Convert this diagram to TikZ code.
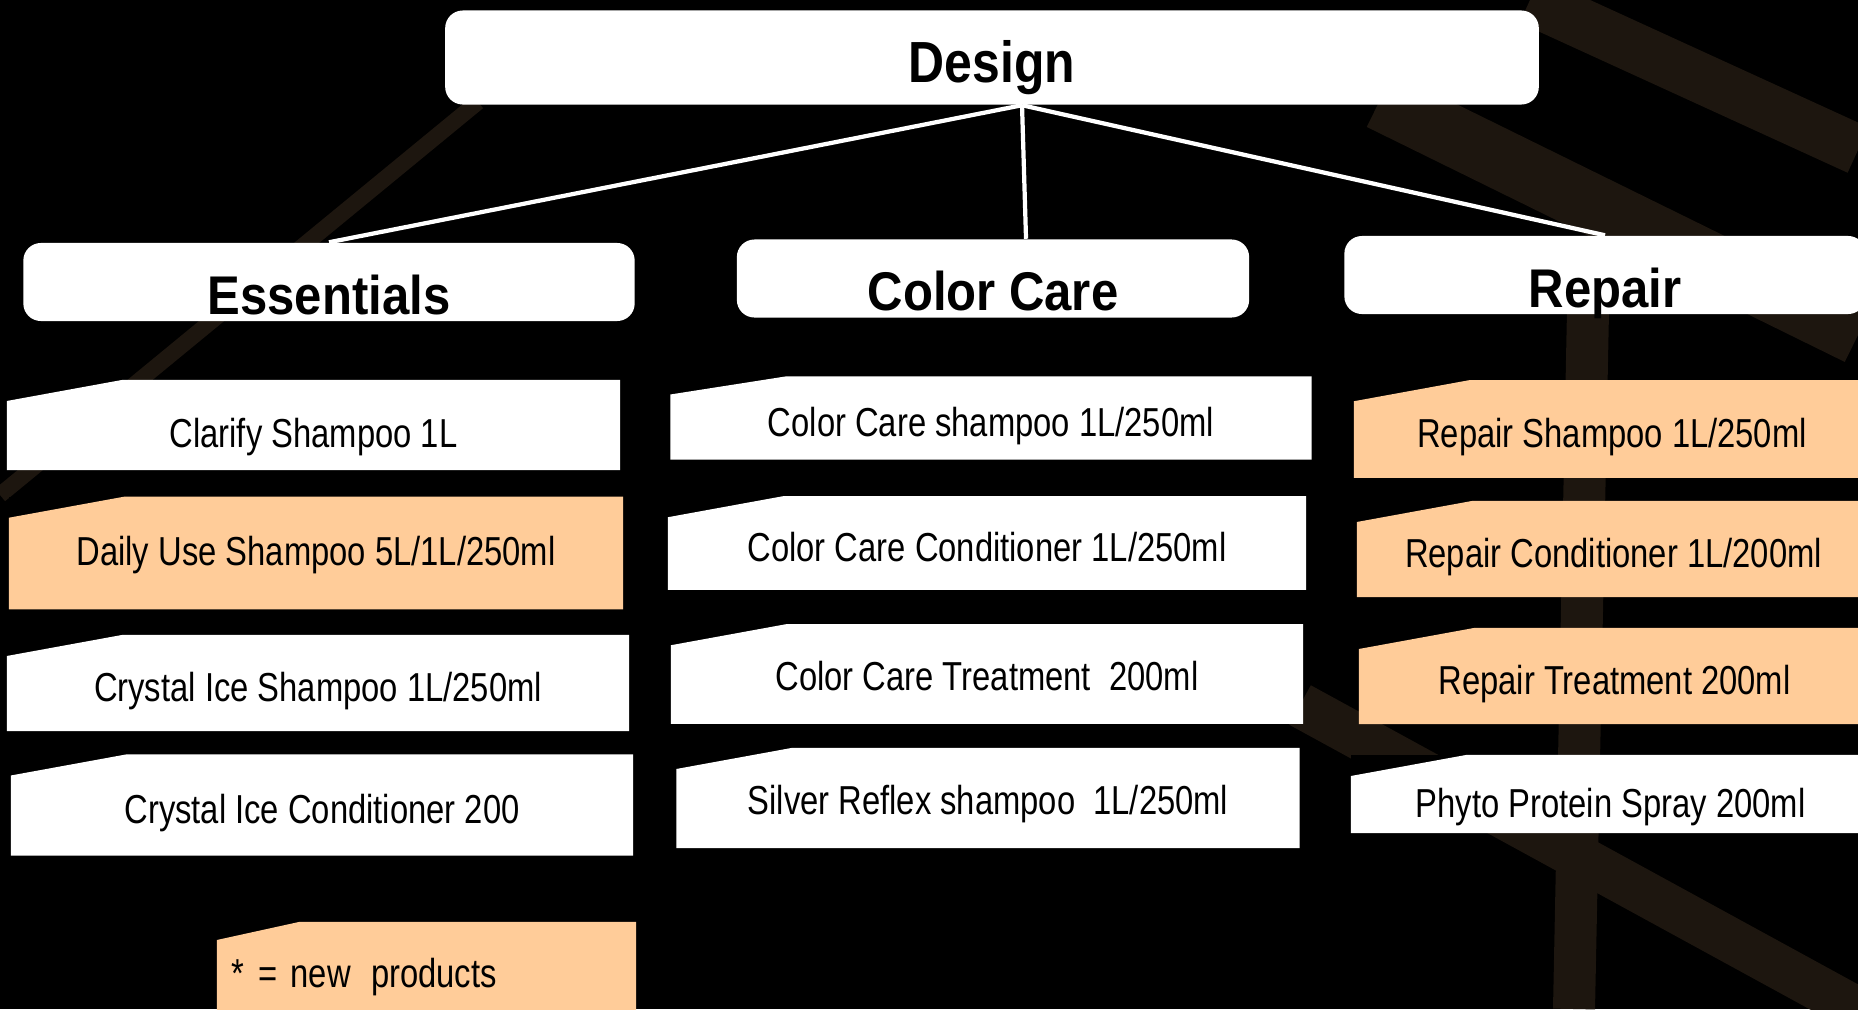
\documentclass[tikz,border=0pt]{standalone}
\usepackage{fontspec}
\setmainfont{Liberation Sans}
\newfontfamily\itemfont[FakeStretch=0.81]{Liberation Sans}
\newfontfamily\headfont[FakeStretch=0.9]{Liberation Sans}
\newfontfamily\designfont[FakeStretch=0.86]{Liberation Sans}
\definecolor{boxorange}{RGB}{255,204,153}
\definecolor{logobrown}{RGB}{29,22,15}

\tikzset{
  cutdx/.store in=\cutdx, cutdx=1.15cm,
  cutdy/.store in=\cutdy, cutdy=0.21cm,
  header/.style={fill=white, rounded corners=5pt, inner sep=0pt,
    font=\headfont\bfseries\fontsize{15.5}{17}\selectfont,
    minimum height=0.78cm, text height=0.71cm, text depth=0.07cm},
  item/.style={fill=black, inner sep=0pt, text height=0.42cm, text depth=0.05cm,
    font=\itemfont\fontsize{11.5}{13}\selectfont,
    path picture={\fill[#1] ([yshift=-\cutdy]path picture bounding box.north west)
      -- ([xshift=\cutdx]path picture bounding box.north west)
      -- (path picture bounding box.north east) -- (path picture bounding box.south east)
      -- (path picture bounding box.south west) -- cycle;}},
  item/.default=white,
  link/.style={white, line width=1.2pt}
}

\begin{document}
\begin{tikzpicture}[x=0.01cm, y=-0.01cm]
\useasboundingbox (0,0) rectangle (1858,1009);
\clip (0,0) rectangle (1858,1009);
\fill [black] (0,0) rectangle (1858,1009);

% faint logo in the background
\draw [logobrown, line width=0.16cm] (478,102) -- (0,495);
\draw [logobrown, line width=0.5cm] (1530,0) -- (1858,150);
\draw [logobrown, line width=0.6cm] (1380,100) -- (1858,335);
\draw [logobrown, line width=0.42cm] (1588,310) -- (1574,1009);
\draw [logobrown, line width=0.45cm] (1300,705) -- (1858,1010);

% top and the three lines
\node [header, font=\designfont\bfseries\fontsize{16.5}{18}\selectfont, minimum width=10.93cm,
  minimum height=0.94cm, text height=0.715cm, text depth=0.225cm] (design) at (992,57.5) {Design};
\node [header, minimum width=6.11cm] (essentials) at (329,282) {Essentials};
\node [header, minimum width=5.12cm] (colorcare) at (993,278.5) {Color Care};
\node [header, minimum width=5.21cm] (repair) at (1605,275) {Repair};

\coordinate (hub) at ([xshift=0.3cm]design.south);
\draw [link] (hub) -- (essentials.north);
\draw [link] (hub) -- ([xshift=0.33cm]colorcare.north);
\draw [link] (hub) -- (repair.north);

% Essentials
\node [item, minimum width=6.13cm, minimum height=0.9cm, text height=0.49cm] (clarify) at (313.5,425) {Clarify Shampoo 1L};
\node [item=boxorange, minimum width=6.14cm, minimum height=1.125cm, text depth=0.17cm] (dailyuse) at (316,553) {Daily Use Shampoo 5L/1L/250ml};
\node [item, minimum width=6.22cm, minimum height=0.96cm] (crystalshampoo) at (318,683) {Crystal Ice Shampoo 1L/250ml};
\node [item, minimum width=6.22cm, minimum height=1.01cm] (crystalcond) at (322,805) {Crystal Ice Conditioner 200};
\node [item=boxorange, cutdx=0.82cm, cutdy=0.18cm, minimum width=4.19cm, minimum height=1.04cm,
  text width=3.89cm, align=left, text depth=0.15cm] (newprod) at (426.5,974) {* = new\hspace{0.5em}products};

% Color Care
\node [item, minimum width=6.41cm, minimum height=0.83cm, cutdy=0.18cm] (ccshampoo) at (991,418) {Color Care shampoo 1L/250ml};
\node [item, minimum width=6.38cm, minimum height=0.935cm] (cccond) at (987,543) {Color Care Conditioner 1L/250ml};
\node [item, minimum width=6.32cm, minimum height=0.995cm, text depth=0.09cm] (cctreat) at (987,674) {Color Care Treatment~ 200ml};
\node [item, minimum width=6.23cm, minimum height=1.0cm, text depth=0.09cm] (silver) at (988,798) {Silver Reflex shampoo~ 1L/250ml};

% Repair
\node [item=boxorange, minimum width=5.16cm, minimum height=0.975cm] (repshampoo) at (1612,429) {Repair Shampoo 1L/250ml};
\node [item=boxorange, minimum width=5.13cm, minimum height=0.96cm] (repcond) at (1613.5,549) {Repair Conditioner 1L/200ml};
\node [item=boxorange, minimum width=5.11cm, minimum height=0.96cm] (reptreat) at (1614.5,676) {Repair Treatment 200ml};
\node [item, minimum width=5.19cm, minimum height=0.78cm, text height=0.52cm] (phyto) at (1610.5,794) {Phyto Protein Spray 200ml};

\end{tikzpicture}
\end{document}
